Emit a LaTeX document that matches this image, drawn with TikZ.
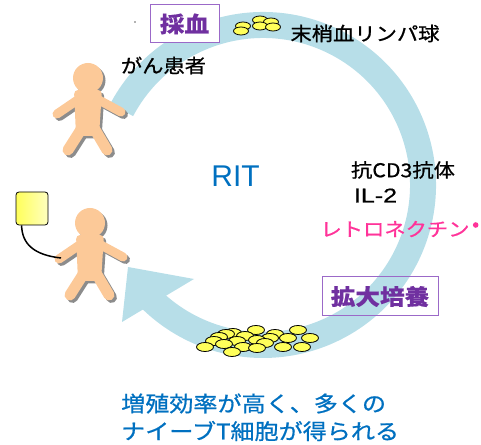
\documentclass[tikz,border=0pt]{standalone}
\usepackage{fontspec}
\setmainfont{Liberation Sans}
\newfontfamily\jp[FakeStretch=1.12, FakeBold=0.8, BoldFeatures={FakeBold=0.3}]{Noto Sans CJK JP}
\newfontfamily\latwide[FakeStretch=1.25, FakeBold=0.6]{Liberation Sans}
\usetikzlibrary{shapes}

\definecolor{bandblue}{RGB}{183,222,232}
\definecolor{skinpeach}{RGB}{252,201,152}
\definecolor{shadowgrey}{RGB}{140,140,140}
\definecolor{cellyellow}{RGB}{255,255,90}
\definecolor{boxviolet}{RGB}{155,105,200}
\definecolor{textviolet}{RGB}{112,48,160}
\definecolor{ritblue}{RGB}{0,112,192}
\definecolor{retropink}{RGB}{255,51,153}

% stick figure, head centre at #1, drawn in colour #2
\newcommand{\patient}[2]{%
	\begin{scope}[shift={(#1)}, color=#2]
		\fill (0,0) circle (15);
		\fill[rounded corners=4] (-14,-12) -- (14,-12) -- (11,-58) -- (-12,-58) -- cycle;
		\draw[line width=9, line cap=round] (-9,-21) -- (-31,-36);
		\draw[line width=9, line cap=round] (9,-21) -- (33,-34);
		\draw[line width=11, line cap=round] (-6,-50) -- (-20,-72);
		\draw[line width=11, line cap=round] (6,-50) -- (19,-72);
	\end{scope}}

\begin{document}
\begin{tikzpicture}[x=1pt, y=1pt]
	\tikzstyle{bandline}=[draw=bandblue, line width=26]
	\tikzstyle{cellstyle}=[shape=ellipse, draw, fill=cellyellow, line width=0.8, minimum width=17, minimum height=9, inner sep=0]
	\tikzstyle{smallcell}=[cellstyle, minimum width=15, minimum height=8]
	\tikzstyle{stepbox}=[draw=boxviolet, line width=1, text=textviolet, font=\jp\bfseries\fontsize{22}{26}\selectfont, inner sep=0]
	\tikzstyle{jplabel}=[font=\jp\fontsize{19}{22}\selectfont, inner sep=0]
	\tikzstyle{bottomtext}=[font=\jp\fontsize{21.5}{26}\selectfont, text=ritblue, inner sep=0, anchor=west]
	\useasboundingbox (0,0) rectangle (481,444);
	% the cycle
	\coordinate (ctr) at (263,259);
	\draw[bandline] ([shift={(152:160)}]ctr) arc[start angle=152, end angle=-140, radius=160];
	\fill[bandblue] (128,177) -- (194,165) -- (122,122) -- cycle;
	% steps
	\node[stepbox, fill=white, minimum width=69, minimum height=38] (sampling) at (184.5,420) {採血};
	\node[stepbox, minimum width=116, minimum height=39] (culture) at (380,147.5) {拡大培養};
	\fill[black!60] (135,422) circle (0.8);
	% lymphocytes
	\foreach \cx/\cy [count=\i] in {260/424, 271/422, 243/418, 260/418, 273/417, 241/413}
		\node[smallcell] (pbl\i) at (\cx,\cy) {};
	\foreach \cx/\cy [count=\i] in {256/114, 298/114, 233/111, 226/110, 275/110, 245/108, 219/107, 288/106, 310/106, 270/106, 257/104, 214/103, 237/103, 265/101, 224/100, 205/97, 243/97, 283/97, 302/97, 257/96, 232/92}
		\node[cellstyle] (tcell\i) at (\cx,\cy) {};
	% patients
	\patient{90.5,363.5}{shadowgrey}
	\patient{88,366}{skinpeach}
	\patient{92.5,218.5}{shadowgrey}
	\patient{90,221}{skinpeach}
	% infusion bag
	\node[draw, line width=0.8, rounded corners=3, minimum width=32, minimum height=33, left color=cellyellow, right color=yellow!25!white] (bag) at (32,235.5) {};
	\coordinate (hand) at (61,186);
	\draw[line width=1.5] ([xshift=6]bag.south west) .. controls (22,200) and (34,189) .. (hand);
	% labels
	\node[jplabel] (blood) at (365,410.5) {末梢血リンパ球};
	\node[jplabel] (cancer) at (163.5,378.5) {がん患者};
	\node[font=\fontsize{30}{34}\selectfont, text=ritblue, inner sep=0] (rit) at (235.5,267.5) {RIT};
	\node[jplabel] (antibody) at (403,274) {抗CD3抗体};
	\node[font=\latwide\fontsize{20}{24}\selectfont, inner sep=0] (il2) at (375.5,248.5) {IL-2};
	\node[jplabel, text=retropink] (retro) at (395,215) {レトロネクチン};
	\fill[retropink] ([xshift=6, yshift=4]retro.east) circle (2.8);
	\node[bottomtext] (gain1) at (121,40.5) {増殖効率が高く、多くの};
	\node[bottomtext] (gain2) at (121,13) {ナイーブT細胞が得られる};
\end{tikzpicture}
\end{document}
